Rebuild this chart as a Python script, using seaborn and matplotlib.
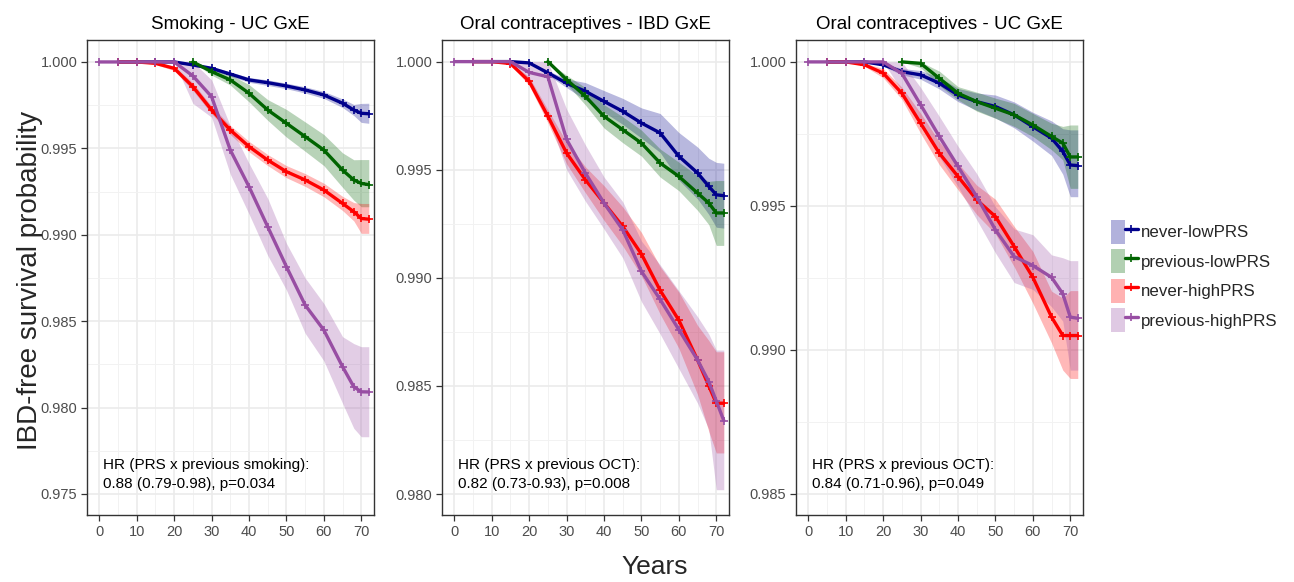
import numpy as np
import pandas as pd
import seaborn as sns
import matplotlib.pyplot as plt
from matplotlib.lines import Line2D
from matplotlib.patches import Patch
from matplotlib.legend_handler import HandlerTuple
from matplotlib.ticker import MultipleLocator, FormatStrFormatter
import matplotlib.transforms as mtransforms

sns.set_theme(style="whitegrid")
plt.rcParams["font.family"] = ["Liberation Sans", "DejaVu Sans"]

nan = np.nan

# time grid (years) shared by every curve
years = [0, 5, 10, 15, 20, 25, 30, 35, 40, 45, 50, 55, 60, 65, 68, 70, 72]

groups = ["never-lowPRS", "previous-lowPRS", "never-highPRS", "previous-highPRS"]
colors = ["#00008B", "#006400", "#FF0000", "#984EA3"]

# ---- Smoking - UC GxE ----
smk_never_low = [nan, 1, 1, 1, 1.0, 0.99983, 0.99963, 0.9993, 0.99896, 0.9988, 0.99861, 0.99838, 0.99809, 0.99761, 0.99722, 0.99703, 0.9970]
smk_never_low_lo = [nan, 1, 1, 1, 1.0, 0.99975, 0.99953, 0.99918, 0.99882, 0.99864, 0.99845, 0.9982, 0.99789, 0.99736, 0.9969, 0.9965, 0.99645]
smk_never_low_hi = [nan, 1, 1, 1, 1.0, 0.9999, 0.99973, 0.99942, 0.9991, 0.99896, 0.99877, 0.99856, 0.99829, 0.99786, 0.99754, 0.9976, 0.99761]
smk_prev_low = [nan, nan, nan, nan, nan, 1.0, 0.99944, 0.99896, 0.99819, 0.99722, 0.99645, 0.99568, 0.9949, 0.99374, 0.99317, 0.99297, 0.9929]
smk_prev_low_lo = [nan, nan, nan, nan, nan, 1.0, 0.99924, 0.99866, 0.99769, 0.99662, 0.99565, 0.99483, 0.994, 0.99274, 0.992, 0.99162, 0.99162]
smk_prev_low_hi = [nan, nan, nan, nan, nan, 1.0, 0.99964, 0.99926, 0.99869, 0.99782, 0.99725, 0.99653, 0.9958, 0.99474, 0.99434, 0.99435, 0.99435]
smk_never_high = [nan, 1, 1, 0.99992, 0.99963, 0.99857, 0.99722, 0.99606, 0.9951, 0.99432, 0.99365, 0.99317, 0.99259, 0.99181, 0.99133, 0.99094, 0.9909]
smk_never_high_lo = [nan, 1, 1, 0.99985, 0.9995, 0.99835, 0.997, 0.9958, 0.9948, 0.994, 0.9933, 0.9928, 0.9922, 0.9914, 0.9908, 0.99008, 0.99008]
smk_never_high_hi = [nan, 1, 1, 0.99998, 0.99976, 0.99879, 0.99744, 0.99632, 0.9954, 0.99464, 0.994, 0.99354, 0.99298, 0.99222, 0.99186, 0.99181, 0.99181]
smk_prev_high = [1, 1, 1, 1, 1.0, 0.99919, 0.99799, 0.9949, 0.99278, 0.99046, 0.98815, 0.98593, 0.98448, 0.98236, 0.9812, 0.98091, 0.9809]
smk_prev_high_lo = [1, 1, 1, 1, 1.0, 0.9976, 0.9968, 0.9935, 0.9912, 0.9888, 0.9868, 0.9843, 0.9827, 0.98024, 0.9788, 0.97831, 0.97831]
smk_prev_high_hi = [1, 1, 1, 1, 1.0, 1.0, 0.99896, 0.9963, 0.99413, 0.9921, 0.9895, 0.9875, 0.98602, 0.9841, 0.9837, 0.98352, 0.98352]

# ---- Oral contraceptives - IBD GxE ----
oci_never_low = [nan, 1, 1, 1, 0.99994, 0.99948, 0.999, 0.99863, 0.99816, 0.9977, 0.99716, 0.9967, 0.99562, 0.99485, 0.99423, 0.99384, 0.9938]
oci_never_low_lo = [nan, 1, 1, 1, 0.99991, 0.99938, 0.9988, 0.99823, 0.99766, 0.9971, 0.99646, 0.9958, 0.99452, 0.99365, 0.99293, 0.99234, 0.9923]
oci_never_low_hi = [nan, 1, 1, 1, 0.99997, 0.99958, 0.9992, 0.99903, 0.99866, 0.9983, 0.99786, 0.9976, 0.99672, 0.99605, 0.99553, 0.99534, 0.9953]
oci_prev_low = [nan, nan, nan, nan, nan, 1.0, 0.99917, 0.9984, 0.99747, 0.99685, 0.99623, 0.99531, 0.99469, 0.99392, 0.99346, 0.993, 0.993]
oci_prev_low_lo = [nan, nan, nan, nan, nan, 1.0, 0.99897, 0.998, 0.99693, 0.99625, 0.99563, 0.99466, 0.99403, 0.99312, 0.99246, 0.9915, 0.9915]
oci_prev_low_hi = [nan, nan, nan, nan, nan, 1.0, 0.99937, 0.9988, 0.99801, 0.99745, 0.99683, 0.99596, 0.99535, 0.99472, 0.99446, 0.9945, 0.9945]
oci_never_high = [nan, 1, 1, 0.99991, 0.99909, 0.99747, 0.99577, 0.99454, 0.99346, 0.99238, 0.9911, 0.98942, 0.98804, 0.9862, 0.985, 0.9842, 0.9842]
oci_never_high_lo = [nan, 1, 1, 0.99986, 0.99889, 0.99717, 0.99527, 0.99394, 0.99266, 0.99148, 0.9901, 0.98832, 0.98674, 0.9846, 0.9829, 0.9819, 0.9819]
oci_never_high_hi = [nan, 1, 1, 0.99996, 0.99929, 0.99777, 0.99627, 0.99514, 0.99426, 0.99328, 0.9921, 0.99052, 0.98934, 0.9878, 0.9871, 0.98658, 0.98658]
oci_prev_high = [1, 1, 1, 1, 0.9995, 0.9993, 0.9964, 0.99485, 0.99346, 0.99222, 0.9903, 0.989, 0.9876, 0.9862, 0.9852, 0.9843, 0.9834]
oci_prev_high_lo = [1, 1, 1, 1, 0.999, 0.9975, 0.995, 0.99355, 0.99226, 0.99092, 0.9889, 0.9874, 0.9858, 0.9842, 0.983, 0.9802, 0.9802]
oci_prev_high_hi = [1, 1, 1, 1, 1.0, 1.0, 0.9978, 0.99615, 0.99466, 0.99352, 0.9917, 0.9906, 0.9894, 0.9882, 0.9874, 0.98666, 0.98666]

# ---- Oral contraceptives - UC GxE ----
ocu_never_low = [nan, 1, 1, 1, 0.9999, 0.99966, 0.99955, 0.99926, 0.99885, 0.99862, 0.99845, 0.99816, 0.99775, 0.99735, 0.99689, 0.99642, 0.9964]
ocu_never_low_lo = [nan, 1, 1, 1, 0.99985, 0.99955, 0.9994, 0.99906, 0.99862, 0.99832, 0.99805, 0.99771, 0.99725, 0.99675, 0.9961, 0.99532, 0.99532]
ocu_never_low_hi = [nan, 1, 1, 1, 0.99995, 0.99977, 0.9997, 0.99946, 0.99908, 0.99892, 0.99885, 0.99861, 0.99825, 0.99795, 0.99768, 0.99764, 0.99764]
ocu_prev_low = [nan, nan, nan, nan, nan, 1.0, 0.99995, 0.99943, 0.99891, 0.99862, 0.99839, 0.99816, 0.99781, 0.99741, 0.99718, 0.9967, 0.9967]
ocu_prev_low_lo = [nan, nan, nan, nan, nan, 1.0, 0.9998, 0.99918, 0.99868, 0.99829, 0.99804, 0.99776, 0.99741, 0.99695, 0.9966, 0.99561, 0.99561]
ocu_prev_low_hi = [nan, nan, nan, nan, nan, 1.0, 1.0, 0.99968, 0.99914, 0.99895, 0.99874, 0.99856, 0.99821, 0.99787, 0.99776, 0.99781, 0.99781]
ocu_never_high = [nan, 1, 1, 0.9999, 0.99961, 0.99891, 0.99787, 0.99683, 0.99602, 0.99521, 0.99463, 0.99359, 0.99252, 0.99114, 0.9905, 0.9905, 0.9905]
ocu_never_high_lo = [nan, 1, 1, 0.99985, 0.99945, 0.9987, 0.99752, 0.99643, 0.99556, 0.9947, 0.99403, 0.99289, 0.99162, 0.99024, 0.9893, 0.98901, 0.98901]
ocu_never_high_hi = [nan, 1, 1, 0.99995, 0.99977, 0.99912, 0.99822, 0.99723, 0.99648, 0.99572, 0.99523, 0.99429, 0.99342, 0.99204, 0.9918, 0.99206, 0.99206]
ocu_prev_high = [1, 1, 1, 1, 1.0, 0.9996, 0.99851, 0.99741, 0.99637, 0.99532, 0.99417, 0.99324, 0.99293, 0.99252, 0.99195, 0.99114, 0.9911]
ocu_prev_high_lo = [1, 1, 1, 1, 1.0, 0.999, 0.99791, 0.99671, 0.99567, 0.99452, 0.99337, 0.99234, 0.9921, 0.9915, 0.991, 0.9893, 0.9893]
ocu_prev_high_hi = [1, 1, 1, 1, 1.0, 1.0, 0.99911, 0.99811, 0.99707, 0.99612, 0.99497, 0.9942, 0.994, 0.9933, 0.9932, 0.9931, 0.9931]

panels = [
    {
        "title": "Smoking - UC GxE",
        "curves": [
            (smk_never_low, smk_never_low_lo, smk_never_low_hi),
            (smk_prev_low, smk_prev_low_lo, smk_prev_low_hi),
            (smk_never_high, smk_never_high_lo, smk_never_high_hi),
            (smk_prev_high, smk_prev_high_lo, smk_prev_high_hi),
        ],
        "ylim": (0.97378, 1.00127),
        "left": 87,
        "hr": "HR (PRS x previous smoking):\n0.88 (0.79-0.98), p=0.034",
    },
    {
        "title": "Oral contraceptives - IBD GxE",
        "curves": [
            (oci_never_low, oci_never_low_lo, oci_never_low_hi),
            (oci_prev_low, oci_prev_low_lo, oci_prev_low_hi),
            (oci_never_high, oci_never_high_lo, oci_never_high_hi),
            (oci_prev_high, oci_prev_high_lo, oci_prev_high_hi),
        ],
        "ylim": (0.97903, 1.00100),
        "left": 442,
        "hr": "HR (PRS x previous OCT):\n0.82 (0.73-0.93), p=0.008",
    },
    {
        "title": "Oral contraceptives - UC GxE",
        "curves": [
            (ocu_never_low, ocu_never_low_lo, ocu_never_low_hi),
            (ocu_prev_low, ocu_prev_low_lo, ocu_prev_low_hi),
            (ocu_never_high, ocu_never_high_lo, ocu_never_high_hi),
            (ocu_prev_high, ocu_prev_high_lo, ocu_prev_high_hi),
        ],
        "ylim": (0.98427, 1.00076),
        "left": 796,
        "hr": "HR (PRS x previous OCT):\n0.84 (0.71-0.96), p=0.049",
    },
]

W, H = 1294, 582
fig = plt.figure(figsize=(W / 100, H / 100), dpi=100)
palette = dict(zip(groups, colors))

for p in panels:
    ax = fig.add_axes([p["left"] / W, 1 - 515 / H, 287 / W, 475 / H])
    rows = []
    for g, (s, lo, hi) in zip(groups, p["curves"]):
        ax.fill_between(years, np.array(lo, float), np.array(hi, float),
                        color=palette[g], alpha=0.28, lw=0)
        for t, v in zip(years, s):
            if not np.isnan(v):
                rows.append({"year": t, "surv": v, "group": g})
    df = pd.DataFrame(rows)
    sns.lineplot(data=df, x="year", y="surv", hue="group", hue_order=groups,
                 palette=palette, estimator=None, lw=2.4, marker="+",
                 markersize=5.5, legend=False, ax=ax)
    for line in ax.lines:
        line.set_markeredgecolor(line.get_color())
        line.set_markeredgewidth(1.2)

    ax.set_xlim(-3.3, 73.4)
    ax.set_ylim(*p["ylim"])
    ax.xaxis.set_major_locator(MultipleLocator(10))
    ax.xaxis.set_minor_locator(MultipleLocator(5))
    ax.yaxis.set_major_locator(MultipleLocator(0.005))
    ax.yaxis.set_minor_locator(MultipleLocator(0.0025))
    ax.yaxis.set_major_formatter(FormatStrFormatter("%.3f"))
    ax.grid(which="major", color="#EBEBEB", lw=1.2)
    ax.grid(which="minor", color="#F2F2F2", lw=0.7)
    ax.set_facecolor("white")
    for sp in ax.spines.values():
        sp.set_color("#333333")
        sp.set_linewidth(1.0)
    ax.tick_params(which="major", bottom=True, left=True, length=4, width=0.9,
                   color="#333333", labelcolor="#4D4D4D", labelsize=10.5, pad=3)
    ax.tick_params(which="minor", length=0)
    ax.set_xlabel("")
    ax.set_ylabel("")
    ax.set_title(p["title"], fontsize=13.5, color="black", pad=8)
    trans = mtransforms.blended_transform_factory(ax.transData, ax.transAxes)
    ax.text(1.0, 0.085, p["hr"], transform=trans, ha="left", va="center",
            fontsize=11, color="black", linespacing=1.45)

fig.text(30 / W, 1 - 280 / H, "IBD-free survival probability", rotation=90,
         ha="center", va="center", fontsize=20)
fig.text(655 / W, 1 - 567 / H, "Years", ha="center", va="center", fontsize=19)

handles = [
    (Patch(facecolor=c, alpha=0.3, edgecolor="none"),
     Line2D([], [], color=c, lw=2.4, marker="+", markersize=6, mec=c, mew=1.2))
    for c in colors
]
fig.legend(handles, groups, handler_map={tuple: HandlerTuple(ndivide=None)},
           loc="center left", bbox_to_anchor=(1103 / W, 1 - 276 / H),
           frameon=False, fontsize=12.2, handlelength=1.55, handleheight=1.8,
           labelspacing=0.32, handletextpad=0.2, borderpad=0)

fig.savefig("out.png", dpi=100)
